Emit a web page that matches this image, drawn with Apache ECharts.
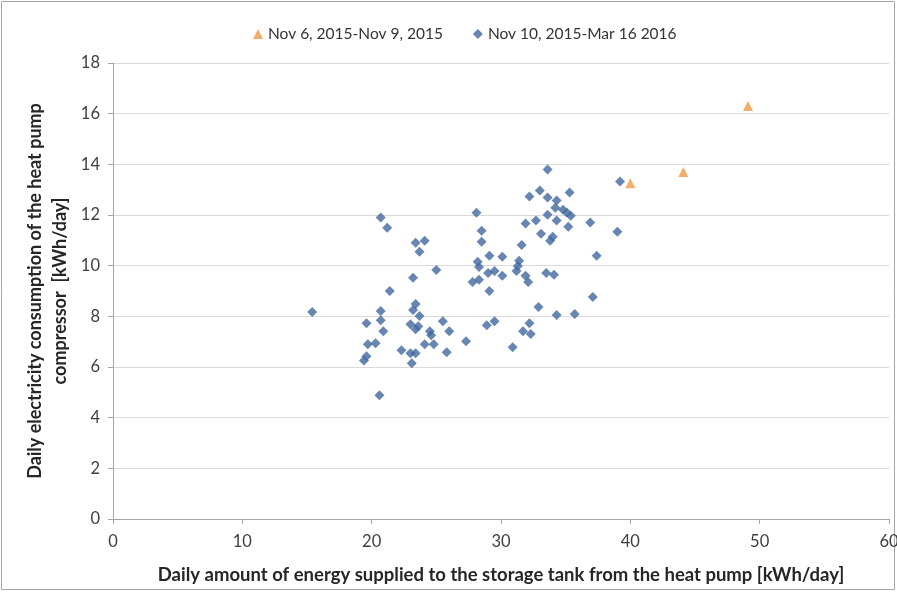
<!DOCTYPE html>
<html>
<head>
<meta charset="utf-8">
<script src="https://cdn.jsdelivr.net/npm/echarts@6/dist/echarts.min.js"></script>
<style>
  html, body { margin: 0; padding: 0; background: #fff; }
  #chart { width: 897px; height: 592px; }
</style>
</head>
<body>
<div id="chart"></div>
<script>
// Heat pump: energy supplied to the tank vs. compressor electricity use
const seriesNames = ['Nov 6, 2015-Nov 9, 2015', 'Nov 10, 2015-Mar 16 2016'];

// Nov 6 – Nov 9, 2015 (x: kWh/day supplied, y: kWh/day consumed)
const earlyX = [40.0, 44.1, 49.1];
const earlyY = [13.25, 13.7, 16.3];

// Nov 10, 2015 – Mar 16, 2016
const mainX = [
  15.4, 19.6, 19.7, 19.6, 19.4, 20.6, 20.7, 21.2, 20.7, 20.7,
  20.9, 20.3, 21.4, 22.3, 23.4, 24.1, 23.7, 23.2, 25.0, 23.4,
  23.2, 23.7, 23.0, 23.4, 23.6, 24.5, 24.6, 24.1, 24.8, 23.0,
  23.4, 23.1, 25.5, 26.0, 25.8, 27.3, 28.9, 29.5, 28.1, 28.5,
  28.5, 28.2, 28.3, 29.0, 29.5, 30.1, 29.1, 30.1, 27.8, 28.3,
  29.1, 31.4, 31.3, 31.2, 31.6, 31.9, 32.1, 31.9, 32.2, 33.0,
  33.6, 33.6, 34.3, 34.2, 34.8, 35.1, 35.4, 35.3, 33.6, 32.7,
  34.3, 35.2, 36.9, 33.1, 34.0, 33.8, 33.5, 34.1, 37.4, 37.1,
  32.9, 34.3, 35.7, 32.2, 31.7, 32.3, 30.9, 39.2, 39.0
];
const mainY = [
  8.17, 7.73, 6.90, 6.42, 6.26, 4.88, 11.90, 11.50, 8.21, 7.85,
  7.41, 6.94, 9.00, 6.66, 10.90, 10.98, 10.55, 9.52, 9.83, 8.49,
  8.25, 8.01, 7.69, 7.49, 7.61, 7.41, 7.25, 6.90, 6.90, 6.54,
  6.54, 6.15, 7.81, 7.41, 6.58, 7.02, 7.65, 7.81, 12.09, 11.38,
  10.94, 10.15, 9.95, 9.71, 9.79, 9.60, 10.39, 10.35, 9.36, 9.44,
  9.00, 10.19, 9.99, 9.79, 10.82, 9.60, 9.36, 11.66, 12.73, 12.97,
  13.80, 12.69, 12.57, 12.29, 12.21, 12.09, 11.97, 12.89, 12.01, 11.78,
  11.78, 11.54, 11.70, 11.26, 11.14, 10.98, 9.71, 9.64, 10.39, 8.76,
  8.37, 8.05, 8.09, 7.73, 7.41, 7.30, 6.78, 13.32, 11.34
];

const xTicks = { min: 0, max: 60, interval: 10 };
const yTicks = { min: 0, max: 18, interval: 2 };

const xTitle = 'Daily amount of energy supplied to the storage tank from the heat pump [kWh/day]';
const yTitle = 'Daily electricity consumption of the heat pump\ncompressor  [kWh/day]';

const pairs = (xs, ys) => xs.map((x, i) => [x, ys[i]]);

const FONT = 'Lato';
const chart = echarts.init(document.getElementById('chart'), null, { renderer: 'canvas' });

chart.setOption({
  animation: false,
  backgroundColor: '#ffffff',
  textStyle: { fontFamily: FONT },
  graphic: [{
    type: 'rect',
    shape: { x: 1.5, y: 1.5, width: 893, height: 588 },
    style: { fill: 'none', stroke: '#a6a6a6', lineWidth: 1 },
    silent: true
  }],
  legend: {
    top: 21,
    left: 248,
    itemGap: 30,
    itemWidth: 10,
    itemHeight: 10,
    textStyle: { fontFamily: FONT, fontSize: 15.5, color: '#333' },
    data: [
      { name: seriesNames[0], icon: 'triangle' },
      { name: seriesNames[1], icon: 'diamond' }
    ]
  },
  grid: { left: 113, right: 8, top: 63, bottom: 73, containLabel: false, outerBoundsMode: 'none' },
  xAxis: {
    type: 'value',
    min: xTicks.min, max: xTicks.max, interval: xTicks.interval,
    name: xTitle,
    nameLocation: 'middle',
    nameGap: 47,
    nameMoveOverlap: false,
    nameTextStyle: { fontFamily: FONT, fontSize: 18.5, fontWeight: 'bold', color: '#262626' },
    axisLine: { show: true, lineStyle: { color: '#a6a6a6' } },
    axisTick: { show: true, length: 5, lineStyle: { color: '#a6a6a6' } },
    axisLabel: { fontFamily: FONT, fontSize: 16.5, color: '#404040', margin: 14 },
    splitLine: { show: false }
  },
  yAxis: {
    type: 'value',
    min: yTicks.min, max: yTicks.max, interval: yTicks.interval,
    name: yTitle,
    nameLocation: 'middle',
    nameRotate: 90,
    nameGap: 40,
    nameMoveOverlap: false,
    nameTextStyle: { fontFamily: FONT, fontSize: 18, fontWeight: 'bold', color: '#262626', lineHeight: 25 },
    axisLine: { show: true, lineStyle: { color: '#a6a6a6' } },
    axisTick: { show: true, length: 5, lineStyle: { color: '#a6a6a6' } },
    axisLabel: { fontFamily: FONT, fontSize: 16.5, color: '#404040', margin: 13 },
    splitLine: { show: true, lineStyle: { color: '#d9d9d9', width: 1 } }
  },
  series: [
    {
      name: seriesNames[0],
      type: 'scatter',
      symbol: 'triangle',
      symbolSize: 10,
      itemStyle: { color: '#f39a45' },
      data: pairs(earlyX, earlyY),
      z: 3
    },
    {
      name: seriesNames[1],
      type: 'scatter',
      symbol: 'diamond',
      symbolSize: 10,
      itemStyle: { color: '#41689f' },
      data: pairs(mainX, mainY),
      z: 2
    }
  ]
});
</script>
</body>
</html>
